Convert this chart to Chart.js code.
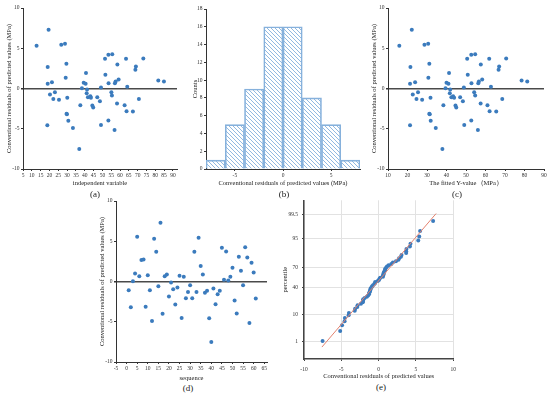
<!DOCTYPE html>
<html>
<head>
<meta charset="utf-8">
<script src="https://cdn.jsdelivr.net/npm/chart.js@4.4.1/dist/chart.umd.min.js"></script>
<style>
  body { margin: 0; background: #fff; width: 550px; height: 396px; position: relative; overflow: hidden; font-family: "Liberation Serif", serif; }
  canvas { position: absolute; }
  .tag { position: absolute; font-size: 9px; color: #222; transform: translate(-50%, -50%); white-space: nowrap; }
</style>
</head>
<body>
<canvas id="chartA"></canvas>
<canvas id="chartB"></canvas>
<canvas id="chartC"></canvas>
<canvas id="chartD"></canvas>
<canvas id="chartE"></canvas>
<div class="tag" style="left:95px;top:194px">(a)</div>
<div class="tag" style="left:284px;top:194px">(b)</div>
<div class="tag" style="left:457px;top:194px">(c)</div>
<div class="tag" style="left:188px;top:388px">(d)</div>
<div class="tag" style="left:381px;top:387px">(e)</div>
<script>
// residuals in sequence order
const sequence = [1, 2, 3, 4, 5, 6, 7, 8, 9, 10, 11, 12, 13, 14, 15, 16, 17, 18, 19, 20,
  21, 22, 23, 24, 25, 26, 27, 28, 29, 30, 31, 32, 33, 34, 35, 36, 37, 38, 39, 40,
  41, 42, 43, 44, 45, 46, 47, 48, 49, 50, 51, 52, 53, 54, 55, 56, 57, 58, 59, 60, 61];
const residuals = [-1.08, -3.20, 0.04, 1.00, 5.56, 0.66, 2.66, 2.74, -3.15, 0.79,
  -1.08, -4.90, 5.31, 3.69, -0.58, 7.30, -4.02, 0.66, 0.87, -1.87,
  -0.12, -0.95, -2.86, -0.75, 0.71, -4.52, 0.58, -2.07, -1.29, -0.46,
  -2.07, 3.69, -1.29, 5.44, 1.91, 0.87, -1.41, -1.16, -4.56, -7.51,
  -0.87, -2.82, -1.58, -1.16, 4.19, 0.21, 3.73, 0.12, 0.58, 1.70,
  -2.37, -3.98, 3.07, 1.33, -0.46, 4.27, 2.99, -5.15, 2.32, 1.12, -2.12];
const independentVar = [41.8, 29.9, 38.4, 81.7, 28.8, 53.5, 19.0, 69.0, 29.7, 21.4,
  47.1, 33.3, 12.7, 51.5, 41.1, 19.5, 30.7, 57.1, 57.5, 58.3,
  41.3, 43.2, 67.3, 20.3, 39.4, 49.2, 19.0, 37.5, 22.2, 23.1,
  62.6, 63.4, 70.7, 26.7, 40.7, 84.9, 25.4, 43.5, 18.8, 36.9,
  55.4, 63.7, 48.6, 30.1, 53.4, 64.1, 73.2, 49.2, 40.5, 51.7,
  44.8, 53.4, 29.6, 29.2, 55.1, 55.6, 58.5, 56.9, 68.7, 59.2, 44.3];
const fittedValues = [42.5, 31.4, 39.5, 78.5, 30.6, 52.8, 21.5, 67.0, 31.2, 23.9,
  47.0, 34.5, 15.8, 50.6, 41.7, 22.2, 31.9, 56.3, 56.6, 57.5,
  41.9, 43.4, 65.5, 22.7, 40.0, 49.1, 21.3, 38.4, 24.6, 25.4,
  61.0, 61.9, 68.6, 28.7, 41.3, 81.4, 27.5, 43.9, 21.3, 37.9,
  54.7, 62.1, 48.4, 31.8, 52.7, 62.8, 70.6, 48.9, 41.0, 50.9,
  45.0, 52.7, 31.2, 30.7, 54.2, 54.7, 57.6, 56.1, 66.7, 58.3, 44.6];

// histogram (panel b)
const histBinCenters = [-7, -5, -3, -1, 1, 3, 5, 7];
const histCounts = [1, 5, 9, 16, 16, 8, 5, 1];

// tick labels
const residualTicks = [-10, -5, 0, 5, 10];
const independentTicks = [5, 10, 15, 20, 25, 30, 35, 40, 45, 50, 55, 60, 65, 70, 75, 80, 85, 90];
const fittedTicks = [10, 20, 30, 40, 50, 60, 70, 80, 90];
const sequenceTicks = [-5, 0, 5, 10, 15, 20, 25, 30, 35, 40, 45, 50, 55, 60, 65];
const histXTicks = [-5, 0, 5];
const countTicks = [0, 2, 4, 6, 8, 10, 12, 14, 16, 18];
const qqXTicks = [-10, -5, 0, 5, 10];
const percentileTicks = [1, 10, 40, 70, 95, 99.5];
const fitLineX = [-7.6, 7.7];

const serif = "'Liberation Serif', 'Times New Roman', serif";
const pointColor = "#3b7bbd";

// inverse normal CDF (Acklam), used for the probability axis
function normInv(p) {
  const a = [-39.69683028665376, 220.9460984245205, -275.9285104469687, 138.357751867269, -30.66479806614716, 2.506628277459239];
  const b = [-54.47609879822406, 161.5858368580409, -155.6989798598866, 66.80131188771972, -13.28068155288572];
  const c = [-0.007784894002430293, -0.3223964580411365, -2.400758277161838, -2.549732539343734, 4.374664141464968, 2.938163982698783];
  const d = [0.007784695709041462, 0.3224671290700398, 2.445134137142996, 3.754408661907416];
  const pl = 0.02425;
  let q, r;
  if (p < pl) {
    q = Math.sqrt(-2 * Math.log(p));
    return (((((c[0] * q + c[1]) * q + c[2]) * q + c[3]) * q + c[4]) * q + c[5]) / ((((d[0] * q + d[1]) * q + d[2]) * q + d[3]) * q + 1);
  }
  if (p > 1 - pl) {
    q = Math.sqrt(-2 * Math.log(1 - p));
    return -(((((c[0] * q + c[1]) * q + c[2]) * q + c[3]) * q + c[4]) * q + c[5]) / ((((d[0] * q + d[1]) * q + d[2]) * q + d[3]) * q + 1);
  }
  q = p - 0.5;
  r = q * q;
  return (((((a[0] * r + a[1]) * r + a[2]) * r + a[3]) * r + a[4]) * r + a[5]) * q / (((((b[0] * r + b[1]) * r + b[2]) * r + b[3]) * r + b[4]) * r + 1);
}

function setupCanvas(id, box) {
  const el = document.getElementById(id);
  el.width = box.w;
  el.height = box.h;
  el.style.left = box.left + "px";
  el.style.top = box.top + "px";
  el.style.width = box.w + "px";
  el.style.height = box.h + "px";
  return el;
}

function makeAxis(min, max, tickValues, title, size, extra) {
  const axis = {
    type: "linear",
    min: min,
    max: max,
    offset: false,
    afterBuildTicks: (scale) => {
      scale.ticks = tickValues.map((v) => ({ value: v }));
    },
    afterFit: (scale) => {
      if (scale.isHorizontal()) scale.height = size;
      else scale.width = size;
    },
    title: { display: true, text: title, color: "#222", font: { family: serif, size: 6.5 }, padding: 0 },
    ticks: { color: "#333", font: { family: serif, size: 5.5 }, padding: 1.5, autoSkip: false, maxRotation: 0 },
    grid: { drawOnChartArea: false, offset: false, tickLength: 2, color: "#333", tickColor: "#333" },
    border: { color: "#333", width: 1 },
  };
  return Object.assign(axis, extra || {});
}

// y axis with a dark line at zero
function residualAxis(size) {
  const axis = makeAxis(-10, 10, residualTicks, "Conventional residuals of predicted values (MPa)", size);
  axis.grid = {
    drawOnChartArea: true,
    tickLength: 2,
    tickColor: "#333",
    color: (ctx) => (ctx.tick && ctx.tick.value === 0 ? "#4a4a4a" : "rgba(0,0,0,0)"),
    lineWidth: (ctx) => (ctx.tick && ctx.tick.value === 0 ? 1.5 : 1),
  };
  return axis;
}

function baseOptions(box, area) {
  return {
    responsive: false,
    animation: false,
    devicePixelRatio: 1,
    layout: {
      padding: { left: 0, bottom: 0, top: area.top - box.top, right: box.left + box.w - area.right },
    },
    plugins: { legend: { display: false }, tooltip: { enabled: false } },
  };
}

function scatterPanel(id, box, area, xs, xMin, xMax, xTicks, xTitle) {
  const canvas = setupCanvas(id, box);
  const options = baseOptions(box, area);
  options.scales = {
    x: makeAxis(xMin, xMax, xTicks, xTitle, box.top + box.h - area.bottom),
    y: residualAxis(area.left - box.left),
  };
  return new Chart(canvas, {
    type: "scatter",
    data: {
      datasets: [{
        data: xs.map((x, i) => ({ x: x, y: residuals[i] })),
        backgroundColor: pointColor,
        borderWidth: 0,
        pointRadius: 2,
      }],
    },
    options: options,
  });
}

// panel a
scatterPanel("chartA", { left: 5, top: 0, w: 181, h: 187 }, { left: 23, right: 177, top: 8, bottom: 169 },
  independentVar, 5, 92.3, independentTicks, "independent variable");

// panel c
scatterPanel("chartC", { left: 370, top: 0, w: 179, h: 187 }, { left: 388, right: 544, top: 8, bottom: 169 },
  fittedValues, 10, 90, fittedTicks, "The fitted Y-value\uFF08MPa\uFF09");

// panel d
scatterPanel("chartD", { left: 98, top: 193, w: 173, h: 189 }, { left: 116, right: 267, top: 201, bottom: 362 },
  sequence, -5, 66.3, sequenceTicks, "sequence");

// panel b: histogram with hatched bars
function hatchPattern() {
  const size = 4;
  const c = document.createElement("canvas");
  c.width = size;
  c.height = size;
  const g = c.getContext("2d");
  g.strokeStyle = "#86b1dc";
  g.lineWidth = 0.9;
  g.beginPath();
  g.moveTo(-1, -1);
  g.lineTo(size + 1, size + 1);
  g.moveTo(-1, size - 1);
  g.lineTo(1, size + 1);
  g.moveTo(size - 1, -1);
  g.lineTo(size + 1, 1);
  g.stroke();
  return g.createPattern(c, "repeat");
}

(function () {
  const box = { left: 191, top: 0, w: 173, h: 187 };
  const area = { left: 206, right: 360, top: 9, bottom: 169 };
  const canvas = setupCanvas("chartB", box);
  const options = baseOptions(box, area);
  options.scales = {
    x: makeAxis(-8, 8, histXTicks, "Conventional residuals of predicted values (MPa)", box.top + box.h - area.bottom),
    y: makeAxis(0, 18, countTicks, "Counts", area.left - box.left),
  };
  new Chart(canvas, {
    type: "bar",
    data: {
      datasets: [{
        data: histBinCenters.map((x, i) => ({ x: x, y: histCounts[i] })),
        backgroundColor: hatchPattern(),
        borderColor: "#86b1dc",
        borderWidth: 1,
        barPercentage: 1,
        categoryPercentage: 1,
      }],
    },
    options: options,
  });
})();

// panel e: normal probability plot
(function () {
  const box = { left: 281, top: 193, w: 180, h: 187 };
  const area = { left: 304, right: 457, top: 200, bottom: 359 };
  const canvas = setupCanvas("chartE", box);
  const n = residuals.length;
  const sorted = residuals.slice().sort((p, q) => p - q);
  const qqPoints = sorted.map((v, i) => ({ x: v, y: normInv((i + 1 - 0.375) / (n + 0.25)) }));
  const mean = residuals.reduce((s, v) => s + v, 0) / n;
  const sd = Math.sqrt(residuals.reduce((s, v) => s + (v - mean) * (v - mean), 0) / (n - 1));
  const fitLine = fitLineX.map((x) => ({ x: x, y: (x - mean) / sd }));
  const zTicks = percentileTicks.map((p) => normInv(p / 100));

  const options = baseOptions(box, area);
  const gridE = { drawOnChartArea: true, tickLength: 2, color: "#e2e2e2", tickColor: "#444" };
  options.scales = {
    x: makeAxis(-10, 10, qqXTicks, "Conventional residuals of predicted values", box.top + box.h - area.bottom, {
      grid: gridE,
      border: { color: "#444", width: 1.5 },
    }),
    y: makeAxis(-3.02, 3.12, zTicks, "percentile", area.left - box.left, {
      grid: gridE,
      border: { color: "#444", width: 1.5 },
    }),
  };
  options.scales.x.ticks = Object.assign({}, options.scales.x.ticks, { padding: 5 });
  options.scales.y.ticks = Object.assign({}, options.scales.y.ticks, {
    padding: 4,
    callback: (value, index) => String(percentileTicks[index]),
  });
  new Chart(canvas, {
    type: "scatter",
    data: {
      datasets: [
        {
          type: "line",
          data: fitLine,
          borderColor: "#e3826f",
          borderWidth: 1,
          pointRadius: 0,
          fill: false,
        },
        {
          data: qqPoints,
          backgroundColor: pointColor,
          borderWidth: 0,
          pointRadius: 2,
        },
      ],
    },
    options: options,
  });
})();
</script>
</body>
</html>
